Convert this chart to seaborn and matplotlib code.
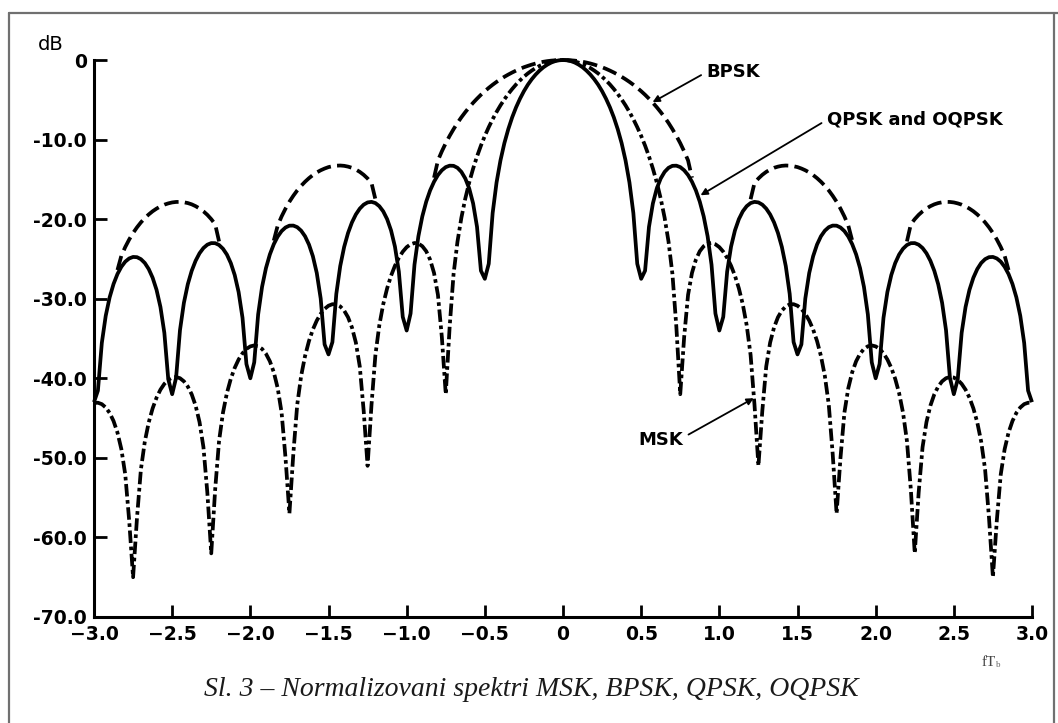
import numpy as np
import pandas as pd
import matplotlib
matplotlib.use("Agg")
import matplotlib.pyplot as plt
from matplotlib.lines import Line2D
import seaborn as sns

# ---------------- data ----------------
# normalized frequency fTb, 0 .. 3.0 in steps of 0.025 (the chart is symmetric about 0)
freq_half = np.linspace(0.0, 3.0, 121)
nan = np.nan

# QPSK / OQPSK (solid), dB, for fTb = 0 ... 3.0
qpsk_half = [0.0,
    -0.04, -0.14, -0.32, -0.58, -0.91, -1.33, -1.83, -2.42, -3.11, -3.92,
    -4.86, -5.94, -7.20, -8.69, -10.45, -12.62, -15.39, -19.23, -25.61, -27.5,
    -26.48, -20.97, -18.02, -16.14, -14.89, -14.06, -13.55, -13.30, -13.28, -13.46,
    -13.86, -14.46, -15.30, -16.39, -17.81, -19.66, -22.15, -25.72, -31.86, -34.0,
    -32.29, -26.59, -23.45, -21.41, -20.00, -19.02, -18.37, -17.98, -17.83, -17.90,
    -18.18, -18.68, -19.41, -20.41, -21.74, -23.50, -25.90, -29.39, -35.45, -37.0,
    -35.74, -29.97, -26.77, -24.66, -23.19, -22.15, -21.45, -21.01, -20.81, -20.82,
    -21.05, -21.50, -22.19, -23.15, -24.43, -26.15, -28.51, -31.97, -37.99, -40.0,
    -38.21, -32.40, -29.16, -27.02, -25.52, -24.45, -23.72, -23.25, -23.02, -23.01,
    -23.21, -23.63, -24.29, -25.23, -26.49, -28.18, -30.52, -33.95, -39.95, -42.0,
    -40.12, -34.29, -31.04, -28.88, -27.36, -26.27, -25.51, -25.03, -24.78, -24.75,
    -24.94, -25.34, -25.99, -26.90, -28.15, -29.83, -32.15, -35.56, -41.55, -43.0]

# MSK (dash-dot), dB
msk_half = [0.0,
    -0.02, -0.08, -0.18, -0.33, -0.51, -0.74, -1.01, -1.33, -1.69, -2.10,
    -2.56, -3.07, -3.64, -4.26, -4.95, -5.70, -6.53, -7.44, -8.44, -9.54,
    -10.76, -12.12, -13.65, -15.39, -17.41, -19.82, -22.83, -26.90, -33.51, -42.0,
    -34.81, -29.51, -26.76, -25.09, -24.03, -23.40, -23.07, -23.00, -23.16, -23.52,
    -24.09, -24.86, -25.86, -27.12, -28.70, -30.70, -33.34, -37.07, -43.35, -51.0,
    -44.08, -38.51, -35.51, -33.61, -32.33, -31.49, -30.97, -30.71, -30.69, -30.88,
    -31.28, -31.90, -32.75, -33.87, -35.32, -37.20, -39.71, -43.31, -49.48, -57.0,
    -49.99, -44.32, -41.23, -39.23, -37.86, -36.92, -36.31, -35.98, -35.87, -35.99,
    -36.31, -36.86, -37.64, -38.69, -40.07, -41.87, -44.32, -47.87, -53.98, -62.0,
    -54.37, -48.65, -45.50, -43.44, -42.02, -41.04, -40.38, -39.99, -39.84, -39.91,
    -40.20, -40.70, -41.43, -42.44, -43.78, -45.55, -47.96, -51.46, -57.54, -65.0,
    -57.86, -52.10, -48.91, -46.82, -45.37, -44.35, -43.67, -43.25, -43.07, -43.11]

# BPSK (dashed), dB - only the visible pieces (NaN where it is hidden)
bpsk_half = [0.0,
    -0.01, -0.04, -0.08, -0.14, -0.22, -0.32, -0.44, -0.58, -0.74, -0.91,
    -1.11, -1.33, -1.57, -1.83, -2.11, -2.42, -2.75, -3.11, -3.50, -3.92,
    -4.37, -4.86, -5.38, -5.94, -6.55, -7.20, -7.91, -8.69, -9.53, -10.45,
    -11.48, -12.62, -14.8, nan, nan, nan, nan, nan, nan, nan,
    nan, nan, nan, nan, nan, nan, nan, -17.5, -15.45, -14.89,
    -14.43, -14.06, -13.77, -13.55, -13.40, -13.30, -13.26, -13.28, -13.35, -13.46,
    -13.64, -13.86, -14.13, -14.46, -14.85, -15.30, -15.81, -16.39, -17.06, -17.81,
    -18.68, -19.66, -20.81, -22.7, nan, nan, nan, nan, nan, nan,
    nan, nan, nan, nan, nan, nan, nan, -22.8, -20.64, -20.00,
    -19.46, -19.02, -18.66, -18.37, -18.14, -17.98, -17.88, -17.83, -17.84, -17.90,
    -18.02, -18.18, -18.40, -18.68, -19.01, -19.41, -19.87, -20.41, -21.03, -21.74,
    -22.56, -23.50, -24.60, -26.4, nan, nan, nan, nan, nan, nan]

x_ticks = [-3.0, -2.5, -2.0, -1.5, -1.0, -0.5, 0.0, 0.5, 1.0, 1.5, 2.0, 2.5, 3.0]
x_labels = ["\u22123.0", "\u22122.5", "\u22122.0", "\u22121.5", "\u22121.0", "\u22120.5",
            "0", "0.5", "1.0", "1.5", "2.0", "2.5", "3.0"]
y_ticks = [0, -10, -20, -30, -40, -50, -60, -70]
y_labels = ["0", "-10.0", "-20.0", "-30.0", "-40.0", "-50.0", "-60.0", "-70.0"]

# mirror the half spectra onto negative frequencies (symmetric spectra)
freq = np.concatenate([-freq_half[:0:-1], freq_half])
qpsk_db = qpsk_half[:0:-1] + qpsk_half
msk_db = msk_half[:0:-1] + msk_half
bpsk_db = bpsk_half[:0:-1] + bpsk_half

# ---------------- figure ----------------
sns.set_theme(style="ticks")
plt.rcParams['font.family'] = ['DejaVu Sans']
plt.rcParams['lines.scale_dashes'] = False
plt.rcParams['text.color'] = 'black'

W, H = 1058, 723
fig = plt.figure(figsize=(W / 100, H / 100), dpi=100)
fig.patch.set_facecolor("white")
ax = fig.add_axes([94 / W, 1 - 617 / H, (1032 - 94) / W, (617 - 60) / H])
ax.set_facecolor("white")

df = pd.DataFrame({"f": freq, "QPSK": qpsk_db, "MSK": msk_db, "BPSK": bpsk_db})

lw = 2.7
sns.lineplot(data=df, x="f", y="QPSK", ax=ax, color="black", lw=lw,
             estimator=None, sort=False, clip_on=False,
             solid_joinstyle="round", solid_capstyle="butt")
sns.lineplot(data=df, x="f", y="MSK", ax=ax, color="black", lw=lw,
             estimator=None, sort=False, clip_on=False,
             linestyle=(0, (9, 2.6, 2.6, 2.6)), dash_capstyle="butt",
             dash_joinstyle="round")

bp = df[["f", "BPSK"]].copy()
bp["seg"] = bp["BPSK"].isna().cumsum()
bp = bp.dropna()
sns.lineplot(data=bp, x="f", y="BPSK", units="seg", ax=ax, color="black", lw=lw,
             estimator=None, sort=False, clip_on=False, legend=False,
             linestyle=(0, (10.5, 4.5)), dash_capstyle="butt",
             dash_joinstyle="round")

ax.set_xlim(-3.0, 3.0)
ax.set_ylim(-70, 0)
ax.set_xlabel("")
ax.set_ylabel("")
for s in ("top", "right"):
    ax.spines[s].set_visible(False)
for s in ("left", "bottom"):
    ax.spines[s].set_linewidth(2.2)
    ax.spines[s].set_color("black")

ax.set_xticks(x_ticks)
ax.set_xticklabels(x_labels, fontweight="bold", fontsize=13.5)
ax.set_yticks(y_ticks)
ax.set_yticklabels(y_labels, fontweight="bold", fontsize=13.5)
ax.tick_params(axis="both", direction="in", length=9, width=2, color="black",
               labelcolor="black")
ax.tick_params(axis="x", pad=6)
ax.tick_params(axis="y", pad=5)

# annotations
arrow = dict(arrowstyle="-|>", color="black", lw=1.3,
             mutation_scale=10, shrinkA=2, shrinkB=0)
ax.annotate("BPSK", xy=(0.573, -5.3), xytext=(0.92, -1.5),
            fontsize=13, fontweight="bold", ha="left", va="center", color="black",
            arrowprops=dict(arrow, relpos=(0, 0.5)), annotation_clip=False)
ax.annotate("QPSK and OQPSK", xy=(0.88, -17.0), xytext=(1.69, -7.5),
            fontsize=13, fontweight="bold", ha="left", va="center", color="black",
            arrowprops=dict(arrow, relpos=(0, 0.5)), annotation_clip=False)
ax.annotate("MSK", xy=(1.22, -42.5), xytext=(0.48, -47.7),
            fontsize=13, fontweight="bold", ha="left", va="center", color="black",
            arrowprops=dict(arrow, relpos=(1, 0.6)), annotation_clip=False)

# figure texts
fig.text(51 / W, 1 - 45 / H, "dB", fontsize=14, ha="center", va="center", color="black")
fig.text(982 / W, 1 - 662 / H, "fT", fontsize=11, ha="left", va="center",
         color="#444444", family="Liberation Serif")
fig.text(996 / W, 1 - 665 / H, "b", fontsize=6.5, ha="left", va="center",
         color="#666666", family="Liberation Serif")
fig.text(531 / W, 1 - 690 / H,
         "Sl. 3 \u2013 Normalizovani spektri MSK, BPSK, QPSK, OQPSK",
         fontsize=20, style="italic", family="Liberation Serif",
         ha="center", va="center", color="#1a1a1a")

# scan border
border = dict(color="#707070", lw=1.6, transform=fig.transFigure)
fig.add_artist(Line2D([9 / W, 1.0], [1 - 13 / H, 1 - 13 / H], **border))
fig.add_artist(Line2D([9 / W, 9 / W], [1 - 13 / H, 0.0], **border))
fig.add_artist(Line2D([1054 / W, 1054 / W], [1 - 13 / H, 0.0], **border))

fig.savefig("out.png", dpi=100, facecolor="white")
